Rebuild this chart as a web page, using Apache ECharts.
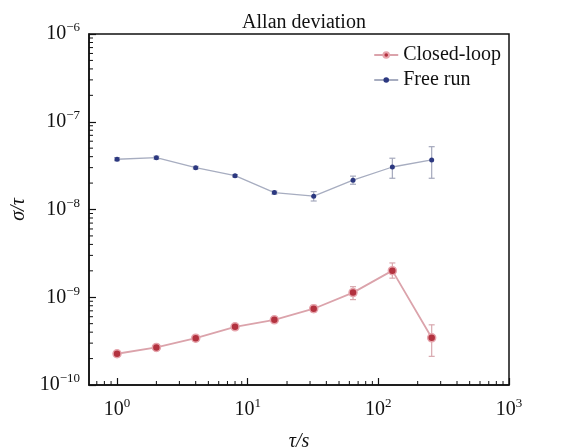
<!DOCTYPE html>
<html>
<head>
<meta charset="utf-8">
<script src="https://cdn.jsdelivr.net/npm/echarts@6/dist/echarts.min.js"></script>
<style>
  html, body { margin: 0; padding: 0; background: #fff; }
  #chart { width: 564px; height: 447px; }
</style>
</head>
<body>
<div id="chart"></div>
<script>
// averaging times, s
const tau = [1, 2, 4, 8, 16, 32, 64, 128, 256];

// closed-loop Allan deviation and error bars
const closedLoop = [2.27e-10, 2.68e-10, 3.42e-10, 4.6e-10, 5.53e-10, 7.4e-10, 1.13e-9, 2.01e-9, 3.45e-10];
const closedLo = [2.15e-10, 2.55e-10, 3.25e-10, 4.4e-10, 5.3e-10, 6.8e-10, 9.4e-10, 1.65e-9, 2.12e-10];
const closedHi = [2.4e-10, 2.82e-10, 3.6e-10, 4.8e-10, 5.8e-10, 8.1e-10, 1.32e-9, 2.46e-9, 4.85e-10];

// free-running Allan deviation and error bars
const freeRun = [3.74e-8, 3.9e-8, 3.0e-8, 2.43e-8, 1.56e-8, 1.42e-8, 2.16e-8, 3.05e-8, 3.67e-8];
const freeLo = [3.6e-8, 3.75e-8, 2.9e-8, 2.35e-8, 1.5e-8, 1.25e-8, 1.94e-8, 2.27e-8, 2.27e-8];
const freeHi = [3.9e-8, 4.05e-8, 3.1e-8, 2.5e-8, 1.62e-8, 1.6e-8, 2.4e-8, 3.84e-8, 5.2e-8];

const xMin = 0.61, xMax = 1000;
const yMin = 1e-10, yMax = 1e-6;

const serif = '"Liberation Serif", "DejaVu Serif", serif';

// minor tick positions (2..9 within each decade)
const xMinor = [];
for (let e = -1; e < 3; e++) for (let m = 2; m <= 9; m++) {
  const v = m * Math.pow(10, e);
  if (v > xMin && v < xMax) xMinor.push(v);
}
const yMinor = [];
for (let e = -10; e < -6; e++) for (let m = 2; m <= 9; m++) yMinor.push(m * Math.pow(10, e));

const powLabel = function (v) {
  const e = Math.round(Math.log10(v));
  if (Math.abs(Math.log10(v) - e) > 1e-6) return '';
  return '{b|10}{s|' + String(e).replace('-', '\u2212') + '}';
};
const richPow = {
  b: { fontFamily: serif, fontSize: 20, color: '#111' },
  s: { fontFamily: serif, fontSize: 13, color: '#111', verticalAlign: 'top', padding: [0, 0, 12, 0] }
};

const errorRender = function (color) {
  return function (params, api) {
    const x = api.value(0);
    const lo = api.coord([x, api.value(1)]);
    const hi = api.coord([x, api.value(2)]);
    const style = { stroke: color, lineWidth: 1.2 };
    return {
      type: 'group',
      children: [
        { type: 'line', shape: { x1: lo[0], y1: lo[1], x2: hi[0], y2: hi[1] }, style: style },
        { type: 'line', shape: { x1: lo[0] - 3, y1: lo[1], x2: lo[0] + 3, y2: lo[1] }, style: style },
        { type: 'line', shape: { x1: hi[0] - 3, y1: hi[1], x2: hi[0] + 3, y2: hi[1] }, style: style }
      ]
    };
  };
};

const chart = echarts.init(document.getElementById('chart'));
chart.setOption({
  backgroundColor: '#fff',
  animation: false,
  title: {
    text: 'Allan deviation',
    left: 299, top: 8, textAlign: 'center',
    textStyle: { fontFamily: serif, fontSize: 20, fontWeight: 'normal', color: '#111' }
  },
  legend: {
    right: 58, top: 40, orient: 'vertical', itemGap: 5, itemWidth: 24, itemHeight: 7,
    textStyle: { fontFamily: serif, fontSize: 20, color: '#111' },
    data: ['Closed-loop', 'Free run']
  },
  grid: {
    left: 89, right: 55, top: 34, bottom: 62, outerBoundsMode: 'none',
    show: true, borderColor: '#111', borderWidth: 1.5
  },
  xAxis: {
    type: 'log', min: xMin, max: xMax, logBase: 10,
    name: '\u03c4/s', nameLocation: 'middle', nameGap: 47,
    nameTextStyle: { fontFamily: serif, fontSize: 20, color: '#111', fontStyle: 'italic' },
    axisLine: { lineStyle: { color: '#111', width: 1.5 } },
    axisTick: { inside: true, length: 7, lineStyle: { color: '#111', width: 1.2 } },
    axisLabel: { formatter: powLabel, rich: richPow, margin: 12, showMinLabel: false },
    splitLine: { show: false }
  },
  yAxis: {
    type: 'log', min: yMin, max: yMax, logBase: 10,
    name: '\u03c3/\u03c4', nameLocation: 'middle', nameGap: 59,
    nameTextStyle: { fontFamily: serif, fontSize: 20, color: '#111', fontStyle: 'italic' },
    axisLine: { lineStyle: { color: '#111', width: 1.5 } },
    axisTick: { inside: true, length: 7, lineStyle: { color: '#111', width: 1.2 } },
    axisLabel: { formatter: powLabel, rich: richPow, margin: 9 },
    splitLine: { show: false }
  },
  series: [
    {
      name: 'minorX', type: 'custom', silent: true, clip: false, z: 1,
      data: xMinor.map(v => [v, yMin]),
      renderItem: function (params, api) {
        const p = api.coord([api.value(0), yMin]);
        return { type: 'line', shape: { x1: p[0], y1: p[1], x2: p[0], y2: p[1] - 4 }, style: { stroke: '#111', lineWidth: 1 } };
      }
    },
    {
      name: 'minorY', type: 'custom', silent: true, clip: false, z: 1,
      data: yMinor.map(v => [xMin, v]),
      renderItem: function (params, api) {
        const p = api.coord([xMin, api.value(1)]);
        return { type: 'line', shape: { x1: p[0], y1: p[1], x2: p[0] + 4, y2: p[1] }, style: { stroke: '#111', lineWidth: 1 } };
      }
    },
    {
      name: 'closedErr', type: 'custom', silent: true, z: 2,
      data: tau.map((t, i) => [t, closedLo[i], closedHi[i]]),
      renderItem: errorRender('#d8a8ae')
    },
    {
      name: 'freeErr', type: 'custom', silent: true, z: 2,
      data: tau.map((t, i) => [t, freeLo[i], freeHi[i]]),
      renderItem: errorRender('#a4a8bc')
    },
    {
      name: 'Closed-loop', type: 'line', z: 3,
      data: tau.map((t, i) => [t, closedLoop[i]]),
      symbol: 'circle', symbolSize: 8,
      lineStyle: { color: '#dba3ab', width: 1.8 },
      itemStyle: { color: '#b3323f', borderColor: '#e6a5ad', borderWidth: 1.5 }
    },
    {
      name: 'Free run', type: 'line', z: 3,
      data: tau.map((t, i) => [t, freeRun[i]]),
      symbol: 'circle', symbolSize: 5,
      lineStyle: { color: '#a7adc0', width: 1.3 },
      itemStyle: { color: '#2c3880' }
    }
  ]
});
</script>
</body>
</html>
